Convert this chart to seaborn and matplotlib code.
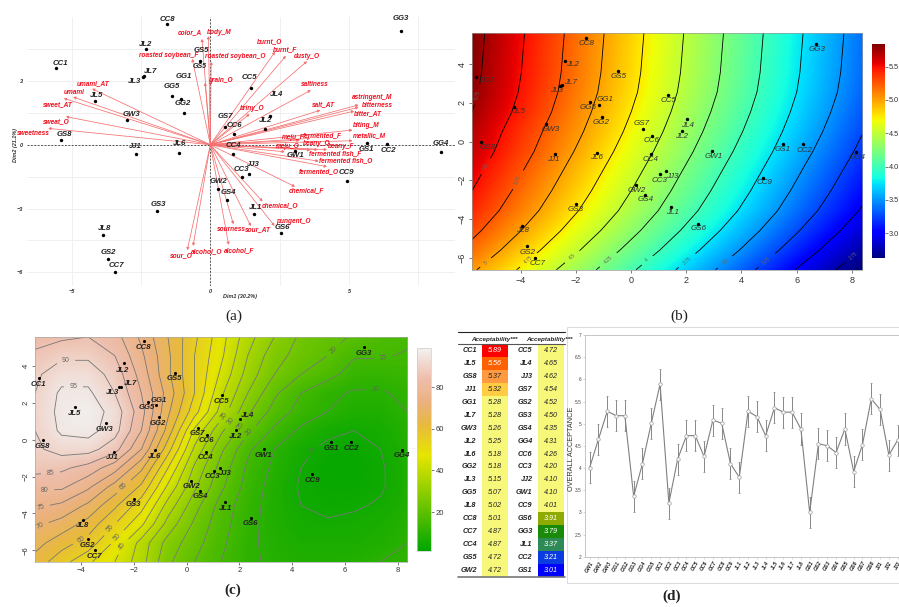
import numpy as np
import pandas as pd
import matplotlib
matplotlib.use("Agg")
import matplotlib.pyplot as plt
from matplotlib.colors import LinearSegmentedColormap, ListedColormap, BoundaryNorm
from matplotlib.lines import Line2D
from matplotlib.patches import Rectangle
import seaborn as sns

W, H = 899, 607

# samples, panel (a) individuals map
sample_names = ["CC8", "JL2", "GS5", "CC1", "JL7", "JL3", "GG5", "GG1", "CC5", "JL5", "GG2", "JL4",
                "GW3", "GS7", "JL2", "CC6", "GS8", "JJ1", "JL6", "CC4", "GW1", "GS1", "CC2", "GG4",
                "JJ3", "CC3", "CC9", "GW2", "GS4", "GS3", "JL1", "GS6", "JL8", "GS2", "CC7", "GG3"]
pca_x = [-1.55, -2.32, -0.37, -5.56, -2.40, -2.44, -1.39, -1.06, 1.46, -4.16, -0.96, 2.15,
         -2.99, 0.53, 1.97, 0.85, -5.38, -2.69, -1.13, 0.83, 3.05, 5.64, 6.38, 8.32,
         1.38, 1.15, 4.92, 0.28, 0.61, -1.91, 1.58, 2.55, -3.86, -3.68, -3.43, 6.88]
pca_y = [5.67, 4.48, 3.93, 3.62, 3.22, 3.17, 2.29, 2.15, 2.68, 2.04, 1.47, 1.36,
         1.15, 0.85, 0.72, 0.50, 0.22, -0.45, -0.38, -0.45, -0.28, 0.07, 0.05, -0.34,
         -1.38, -1.52, -1.69, -2.10, -2.61, -3.12, -3.27, -4.15, -4.26, -5.36, -5.98, 5.36]

# samples on the preference maps (b) and (c)
map_x = [-1.63, -2.39, -0.46, -5.62, -2.51, -2.56, -1.49, -1.15, 1.34, -4.23, -1.05, 2.03,
         -3.07, 0.43, 1.85, 0.75, -5.45, -2.77, -1.22, 0.72, 2.92, 5.49, 6.23, 8.15,
         1.28, 1.05, 4.77, 0.17, 0.50, -2.01, 1.46, 2.43, -3.94, -3.75, -3.49, 6.72]
map_y = [5.36, 4.18, 3.64, 3.35, 2.90, 2.89, 2.04, 1.89, 2.42, 1.80, 1.24, 1.15,
         0.91, 0.65, 0.52, 0.29, 0.00, -0.64, -0.57, -0.64, -0.50, -0.12, -0.14, -0.53,
         -1.53, -1.68, -1.86, -2.23, -2.75, -3.21, -3.38, -4.24, -4.35, -5.41, -6.01, 5.03]

# variables, panel (a) loadings
var_names = ["sweetness", "sweat_O", "sweet_AT", "umami", "umami_AT", "roasted soybean_F", "color_A",
             "body_M", "grain_O", "roasted soybean_O", "burnt_O", "burnt_F", "dusty_O", "saltiness",
             "salt_AT", "briny_O", "astringent_M", "bitterness", "bitter_AT", "biting_M", "metallic_M",
             "meju_F", "fermented_F", "meju_O", "beany_O", "beany_F", "fermented fish_F",
             "fermented fish_O", "fermented_O", "chemical_F", "chemical_O", "pungent_O", "sour_AT",
             "sourness", "alcohol_F", "alcohol_O", "sour_O"]
var_x = [-5.84, -5.20, -5.28, -4.94, -4.26, -0.65, -0.30, -0.07, -0.19, 0.03, 2.33, 2.72, 3.48, 3.62,
         3.96, 1.41, 5.34, 5.34, 5.18, 5.12, 5.12, 3.21, 3.60, 2.68, 3.87, 4.20, 3.60,
         3.90, 4.20, 3.05, 1.88, 2.31, 1.46, 0.83, 0.66, -0.62, -0.83]
var_y = [0.77, 1.32, 2.18, 2.24, 2.63, 4.03, 4.97, 5.10, 2.91, 3.89, 4.37, 4.17, 3.92, 2.56,
         1.62, 1.44, 1.87, 1.76, 1.58, 0.69, 0.19, 0.21, 0.30, -0.33, -0.23, -0.23, -0.25,
         -0.77, -1.03, -1.97, -2.66, -3.81, -3.82, -3.73, -4.70, -4.75, -4.95]

# surface of panel (b), rows from y=5.6 down to y=-6.62
surface_b = [
    [5.83, 5.48, 5.13, 4.78, 4.43, 4.08, 3.73, 3.39],
    [5.82, 5.47, 5.12, 4.77, 4.42, 4.07, 3.72, 3.38],
    [5.81, 5.46, 5.11, 4.76, 4.41, 4.06, 3.71, 3.37],
    [5.79, 5.44, 5.09, 4.74, 4.39, 4.04, 3.69, 3.35],
    [5.75, 5.40, 5.05, 4.70, 4.35, 4.00, 3.65, 3.31],
    [5.69, 5.34, 5.00, 4.65, 4.30, 3.95, 3.60, 3.26],
    [5.64, 5.29, 4.94, 4.59, 4.24, 3.89, 3.54, 3.20],
    [5.57, 5.22, 4.87, 4.52, 4.17, 3.82, 3.47, 3.13],
    [5.50, 5.15, 4.80, 4.45, 4.10, 3.75, 3.40, 3.06],
    [5.42, 5.07, 4.72, 4.37, 4.02, 3.67, 3.32, 2.98],
    [5.31, 4.96, 4.61, 4.26, 3.91, 3.56, 3.21, 2.87],
    [5.18, 4.83, 4.48, 4.13, 3.78, 3.43, 3.08, 2.74],
    [5.03, 4.68, 4.33, 3.98, 3.63, 3.28, 2.93, 2.59],
]

# surface of panel (c), percent of consumers, same rows
surface_c = [
    [83, 84, 85, 82, 74, 65, 56, 47, 37, 30, 24, 21.5, 19.5, 17, 16],
    [86, 89, 89, 85, 76, 66, 55, 46, 35, 27, 23, 20, 15.5, 15.5, 14.5],
    [89, 93, 93, 88, 78, 66, 55, 44, 33, 25, 20, 17, 12.5, 12, 13],
    [90, 96, 96, 90, 80, 68, 55, 41, 30, 21, 15, 11, 9.5, 9.5, 11],
    [91, 96.5, 98, 93, 82, 66, 52, 38, 26, 18, 13, 10, 8, 8, 10],
    [90, 96, 97, 92, 80, 63, 44, 31, 21, 14, 9, 6, 5, 6, 9],
    [89, 92, 92, 87, 75, 57, 39, 26, 16, 10, 6, 4, 3.5, 5, 8],
    [87, 86, 83, 77, 66, 50, 34, 23, 14, 9, 5, 3, 3, 4.5, 7.5],
    [81, 81, 76, 68, 59, 44, 31, 21, 13, 8, 4.5, 3.5, 3.5, 4.5, 7.5],
    [76, 74, 69, 61, 52, 38, 27, 18, 12, 8, 5, 4, 4.5, 5.5, 8],
    [71, 68, 63, 55, 46, 33, 24, 17, 11.5, 8, 6, 5.5, 6, 7, 9],
    [67, 62, 58, 49, 38, 28, 22, 16, 11, 8.5, 7, 7, 7, 8, 10],
    [63, 57, 51, 45, 37, 26, 20, 15, 11, 9, 8, 8, 8.5, 10, 11],
]

# table of panel (d)
table_names_1 = ["CC1", "JL5", "GS8", "JJ1", "GG1", "JL7", "GW3", "JL2", "JL6", "GG2", "JL3", "GG5",
                 "JL8", "CC8", "CC7", "CC4", "GS5", "GW2"]
table_values_1 = [5.89, 5.56, 5.37, 5.32, 5.28, 5.28, 5.26, 5.25, 5.18, 5.18, 5.15, 5.07,
                  5.02, 5.01, 4.87, 4.87, 4.72, 4.72]
table_names_2 = ["CC5", "JL4", "JJ3", "GS7", "GS2", "GS3", "GS4", "GG4", "CC6", "CC3", "JJ2", "GW1",
                 "CC9", "GS6", "GG3", "JL1", "CC2", "GS1"]
table_values_2 = [4.72, 4.65, 4.62, 4.54, 4.52, 4.50, 4.35, 4.31, 4.26, 4.20, 4.10, 4.10,
                  4.01, 3.91, 3.79, 3.37, 3.21, 3.01]

# line chart of panel (d)
acc_labels = ["GW1", "GW2", "GW3", "GG1", "GG2", "GG3", "GG4", "GG5", "CC1", "CC2", "CC3", "CC4",
              "CC5", "CC6", "CC7", "CC8", "CC9", "JL1", "JL2", "JL3", "JL4", "JL5", "JL6", "JL7",
              "JL8", "GS1", "GS2", "GS3", "GS4", "GS5", "GS6", "GS7", "GS8", "JJ1", "JJ2", "JJ3"]
acc_values = [4.01, 4.65, 5.28, 5.18, 5.18, 3.36, 4.10, 5.01, 5.89, 3.21, 4.20, 4.73,
              4.73, 4.26, 5.08, 5.01, 4.10, 3.79, 5.28, 5.16, 4.73, 5.36, 5.26, 5.26,
              4.88, 3.00, 4.55, 4.50, 4.35, 4.88, 3.92, 4.53, 5.56, 5.32, 4.29, 4.63]
acc_err = [0.35] * 36

# label offsets in pixels
pca_off = [(0, 5), (0, 5), (1, 11), (4, 4), (7, 5), (-8, -4), (0, 10), (3, 22), (-1, 10), (2, 6), (-1, 10), (7, 21),
           (4, 6), (0, 10), (1, 9), (0, 9), (3, 6), (0, 8), (1, 9), (0, 9), (0, -5), (0, -6), (1, -7), (0, 8),
           (5, 10), (-1, 8), (0, 8), (0, 8), (1, 8), (1, 7), (1, 7), (1, 6), (1, 7), (0, 6), (1, 6), (0, 12)]
var_off = [(-15, -5), (-10, -5), (-6, -6), (1, 5), (1, 5), (-24, 3), (-12, 6), (11, 4), (15, 2), (24, 5),
           (-5, 10), (-1, 6), (0, 5), (4, 6), (3, 6), (3, 6), (14, 7), (19, 2), (14, -3), (14, 5), (17, 5),
           (-6, 3), (12, 3), (3, 5), (-1, 6), (14, 3), (25, -4), (27, 0), (-8, -5), (12, -4), (17, -4),
           (19, 4), (7, -4), (-2, -5), (11, -6), (14, -6), (-6, -6)]
b_off = [(1, -6), (8, -4), (0, -6), (11, -4), (9, 3), (-4, -5), (-2, -6), (6, 5), (1, -6), (4, -5), (-1, -5), (1, -6),
         (4, -6), (-1, 5), (-1, -5), (0, -5), (7, -6), (-1, -6), (-1, -5), (0, -6), (2, -5), (0, -6), (2, -6), (1, -6),
         (6, -5), (0, -6), (2, -5), (1, -6), (1, -5), (0, -6), (1, -5), (1, -5), (0, -5), (0, -6), (3, -6), (1, -5)]
c_off = [(0, -6), (-1, -7), (0, -6), (0, -6), (10, 3), (-7, -6), (-1, -5), (2, 5), (-1, -6), (-1, -7), (-1, -6), (7, 3),
         (-1, -6), (-1, -6), (0, -6), (0, -6), (-1, -7), (-1, -6), (0, -6), (0, -6), (0, -6), (0, -6), (0, -6), (0, -6),
         (5, -5), (-2, -6), (0, -6), (0, -6), (0, -6), (0, -6), (0, -6), (0, -6), (0, -6), (-1, -6), (0, -6), (0, -6)]

sns.set_theme(style="white")
plt.rcParams["font.family"] = ["Liberation Sans", "DejaVu Sans"]

fig = plt.figure(figsize=(W / 100, H / 100), dpi=100, facecolor="white")


def px_axes(left, top, right, bottom):
    return fig.add_axes([left / W, 1 - bottom / H, (right - left) / W, (bottom - top) / H])


def fig_text(x, y, s, **kw):
    fig.text(x / W, 1 - y / H, s, ha="center", va="center", **kw)


def fig_line(x0, x1, y, color, lw):
    fig.add_artist(Line2D([x0 / W, x1 / W], [1 - y / H, 1 - y / H], color=color, lw=lw))


def label_points(ax, xs, ys, names, offs, **kw):
    for x, y, name, off in zip(xs, ys, names, offs):
        ax.annotate(name, (x, y), xytext=off, textcoords="offset pixels", ha="center", va="center", **kw)


# ---- (a) biplot
ax = px_axes(26.7, 17.3, 455, 286)
ax.set_xlim(-6.62, 8.82)
ax.set_ylim(-6.64, 5.99)
ax.set_xticks([-5, 0, 5])
ax.set_xticks([-2.5, 2.5, 7.5], minor=True)
ax.set_yticks([-6, -3, 0, 3])
ax.set_yticks([-4.5, -1.5, 1.5, 4.5], minor=True)
ax.grid(True, which="both", color="#f0f0f0", lw=0.7)
ax.set_axisbelow(True)
for s in ax.spines.values():
    s.set_visible(False)
ax.tick_params(axis="both", length=1.5, width=0.4, pad=1, labelsize=4, color="#555555", labelcolor="#333333")
ax.tick_params(axis="both", which="minor", length=0)
for t in ax.get_xticklabels() + ax.get_yticklabels():
    t.set_fontweight("bold")
    t.set_fontstyle("italic")
ax.axhline(0, color="#555555", lw=0.7, ls=(0, (2, 1.5)))
ax.axvline(0, color="#555555", lw=0.7, ls=(0, (2, 1.5)))
for x, y in zip(var_x, var_y):
    ax.annotate("", xy=(x, y), xytext=(0, 0),
                arrowprops=dict(arrowstyle="-|>,head_length=0.12,head_width=0.07", color="#f57070",
                                lw=0.55, shrinkA=0, shrinkB=0))
label_points(ax, var_x, var_y, var_names, var_off, fontsize=4.7, color="#f01020", fontweight="bold", fontstyle="italic")
sns.scatterplot(x=pca_x, y=pca_y, color="black", s=6, linewidth=0, ax=ax, zorder=4)
label_points(ax, pca_x, pca_y, sample_names, pca_off, fontsize=5.6, color="#222222", fontweight="bold", fontstyle="italic")
ax.annotate("GS5", (pca_x[2], pca_y[2]), xytext=(0, -5), textcoords="offset pixels", ha="center", va="center",
            fontsize=5, color="#222222", fontweight="bold", fontstyle="italic")
fig_text(240, 296.7, "Dim1 (30.2%)", fontsize=4, fontweight="bold", fontstyle="italic", color="#333333")
fig_text(16, 145, "Dim2 (21.1%)", fontsize=4, fontweight="bold", fontstyle="italic", color="#333333", rotation=90)

# ---- (b) external preference map, mean liking
zb = np.array(surface_b)
xb = np.linspace(-5.76, 8.37, zb.shape[1])
yb = np.linspace(5.6, -6.62, zb.shape[0])
dxb, dyb = xb[1] - xb[0], yb[0] - yb[1]
ax = px_axes(472, 33, 862, 270)
im = ax.imshow(zb, cmap="jet", vmin=2.63, vmax=5.84, aspect="auto", interpolation="bilinear",
               extent=[xb[0] - dxb / 2, xb[-1] + dxb / 2, yb[-1] - dyb / 2, yb[0] + dyb / 2])
cs = ax.contour(xb, yb, zb, levels=np.arange(2.75, 6, 0.25), colors="black", linewidths=0.6)
ax.clabel(cs, fontsize=3.5, fmt="%g", colors="#666666",
          manual=[(-5.5, 2.4), (-5.23, -1.29), (-4.08, -1.98), (-5.23, -6.3), (-3.66, -6.2), (-2.09, -6),
                  (-0.76, -6.2), (0.63, -6.2), (2.07, -6.2), (3.46, -6.3), (4.97, -6.2), (8.05, -5.84)])
ax.set_xlim(-5.76, 8.37)
ax.set_ylim(-6.63, 5.6)
ax.set_xticks([-4, -2, 0, 2, 4, 6, 8])
ax.set_yticks([-6, -4, -2, 0, 2, 4])
ax.grid(False)
for s in ax.spines.values():
    s.set_linewidth(0.5)
    s.set_color("#999999")
ax.tick_params(axis="both", length=2.5, width=0.5, pad=1.5, labelsize=6.5, bottom=True, left=True, color="#444444", labelcolor="#333333")
for t in ax.get_yticklabels():
    t.set_rotation(90)
    t.set_va("center")
sns.scatterplot(x=map_x, y=map_y, color="black", s=6, linewidth=0, ax=ax, zorder=4)
label_points(ax, map_x, map_y, sample_names, b_off, fontsize=5.8, color="#333333", fontstyle="italic")
cax = px_axes(872, 44, 885, 258)
cb = fig.colorbar(im, cax=cax)
cb.set_ticks([3.0, 3.5, 4.0, 4.5, 5.0, 5.5])
cb.set_ticklabels(["3.0", "3.5", "4.0", "4.5", "5.0", "5.5"])
cb.ax.tick_params(length=2, width=0.5, pad=1, labelsize=5.3, right=True, color="#444444", labelcolor="#333333")
cb.outline.set_visible(False)

# ---- (c) external preference map, percent of consumers
terrain = LinearSegmentedColormap.from_list(
    "terrain_r_like", [(0, "#00A600"), (0.47, "#E6E600"), (0.62, "#E8B93E"), (0.73, "#EBB17E"),
                       (0.85, "#EEBEAC"), (1, "#F2F2F2")])
zc = np.array(surface_c, dtype=float)
xc = np.linspace(-5.76, 8.37, zc.shape[1])
yc = np.linspace(5.6, -6.62, zc.shape[0])
dxc, dyc = xc[1] - xc[0], yc[0] - yc[1]
ax = px_axes(35, 336.7, 407.3, 561.7)
im = ax.imshow(zc, cmap=terrain, vmin=1.4, vmax=99, aspect="auto", interpolation="bilinear",
               extent=[xc[0] - dxc / 2, xc[-1] + dxc / 2, yc[-1] - dyc / 2, yc[0] + dyc / 2])
cs = ax.contour(xc, yc, zc, levels=np.arange(5, 100, 5), colors="#777777", linewidths=0.6)
ax.clabel(cs, fontsize=5, fmt="%d", colors="#666666",
          manual=[(-4.6, 4.43), (-4.3, 3.3), (-5.15, -2.17), (-5.38, -3), (-5.5, -3.93), (-5.5, -4.9),
                  (-2.28, -2.72), (-4.05, -5.3), (-2.9, -4.8), (-2.66, -5.25), (-2.34, -5.85), (1.32, 1.45),
                  (1.6, 1.14), (1.9, 0.9), (2.17, 0.72), (5.5, 5), (7.46, 4.43), (7.14, 2.84), (4.4, -0.2)])
ax.set_xlim(-5.76, 8.37)
ax.set_ylim(-6.62, 5.61)
ax.set_xticks([-4, -2, 0, 2, 4, 6, 8])
ax.set_yticks([-6, -4, -2, 0, 2, 4])
ax.grid(False)
for s in ax.spines.values():
    s.set_linewidth(0.5)
    s.set_color("#aaaaaa")
ax.tick_params(axis="both", length=2.5, width=0.5, pad=1.5, labelsize=5.5, bottom=True, left=True, color="#444444", labelcolor="#333333")
for t in ax.get_yticklabels():
    t.set_rotation(90)
    t.set_va("center")
sns.scatterplot(x=map_x, y=map_y, color="black", s=5, linewidth=0, ax=ax, zorder=4)
label_points(ax, map_x, map_y, sample_names, c_off, fontsize=5.6, color="#222222", fontweight="bold", fontstyle="italic")
cax = px_axes(417.3, 347.7, 430.7, 550.7)
cb = fig.colorbar(im, cax=cax)
cb.set_ticks([20, 40, 60, 80])
cb.ax.tick_params(length=2, width=0.5, pad=1.5, labelsize=5.5, right=True, color="#444444", labelcolor="#333333")
cb.outline.set_edgecolor("#cccccc")
cb.outline.set_linewidth(0.5)

# ---- (d) table
table_bounds = [3.0, 3.1, 3.3, 3.5, 3.85, 3.95, 5.3, 5.35, 5.45, 5.7, 6.0]
table_colors = ["#0000FF", "#0A3CE0", "#2E8B57", "#1A8A0A", "#8FAA00", "#F7F77A", "#FFCC44", "#FF9A40", "#FF6000", "#FF0000"]
table_cmap = ListedColormap(table_colors)
table_norm = BoundaryNorm(table_bounds, table_cmap.N)
for left, right, names, values in [(482.3, 507.7, table_names_1, table_values_1),
                                   (538, 564, table_names_2, table_values_2)]:
    ax = px_axes(left, 344.3, right, 576.7)
    df = pd.DataFrame({"Acceptability": values}, index=names)
    sns.heatmap(df, cmap=table_cmap, norm=table_norm, cbar=False, annot=True, fmt=".2f", ax=ax,
                xticklabels=False, yticklabels=names,
                annot_kws={"fontsize": 5.2, "fontstyle": "italic"})
    ax.tick_params(axis="y", length=0, pad=4, labelsize=5.2, rotation=0, labelcolor="#222222")
    for t in ax.get_yticklabels():
        t.set_fontweight("bold")
        t.set_fontstyle("italic")
fig_line(458, 565, 332.3, "#222222", 0.8)
fig_line(458, 565, 344.3, "#555555", 0.8)
fig_line(458, 565, 576.7, "#777777", 1.2)
fig_text(494, 339, "Acceptability***", fontsize=4.5, fontweight="bold", fontstyle="italic", color="#222222")
fig_text(549.5, 339, "Acceptability***", fontsize=4.5, fontweight="bold", fontstyle="italic", color="#222222")

# ---- (d) line chart
fig.add_artist(Rectangle((567 / W, 1 - 583 / H), 340 / W, 256 / H, fill=False, edgecolor="#dddddd", lw=0.8,
                         transform=fig.transFigure))
ax = px_axes(585, 335, 899, 556.7)
ax.patch.set_alpha(0)
ax.errorbar(acc_labels, acc_values, yerr=acc_err, fmt="none", ecolor="#888888", elinewidth=0.7, capsize=0.9, capthick=0.5)
sns.lineplot(x=acc_labels, y=acc_values, sort=False, errorbar=None, color="#808080", lw=0.8, marker="o",
             markersize=2.5, markerfacecolor="white", markeredgecolor="#999999", markeredgewidth=0.5, ax=ax)
ax.set_xlim(-0.53, 35.15)
ax.set_ylim(2, 7)
ax.set_yticks([2, 2.5, 3, 3.5, 4, 4.5, 5, 5.5, 6, 6.5, 7])
ax.set_yticklabels(["2", "2.5", "3", "3.5", "4", "4.5", "5", "5.5", "6", "6.5", "7"])
ax.spines["right"].set_visible(False)
for s in ["left", "bottom", "top"]:
    ax.spines[s].set_color("#bbbbbb")
    ax.spines[s].set_linewidth(0.6)
ax.tick_params(axis="y", length=1.5, width=0.4, pad=1, labelsize=3.4, left=True, color="#bbbbbb", labelcolor="#444444")
ax.tick_params(axis="x", length=1.5, width=0.4, pad=1, labelsize=3.8, bottom=True, color="#bbbbbb", labelcolor="#222222")
for t in ax.get_xticklabels():
    t.set_rotation(60)
    t.set_fontweight("bold")
    t.set_fontstyle("italic")
fig_text(571.5, 449, "OVERALL ACCEPTANCE", fontsize=5.2, color="#333333", rotation=90)

# captions
serif = ["Liberation Serif", "DejaVu Serif"]
fig_text(234, 316, "(a)", fontsize=11, family=serif, color="#222222")
fig_text(679, 316, "(b)", fontsize=11, family=serif, color="#222222")
fig_text(233, 590, "(c)", fontsize=11, family=serif, fontweight="bold", color="#222222")
fig_text(672, 596, "(d)", fontsize=11, family=serif, fontweight="bold", color="#222222")

fig.savefig("out.png", dpi=100)
